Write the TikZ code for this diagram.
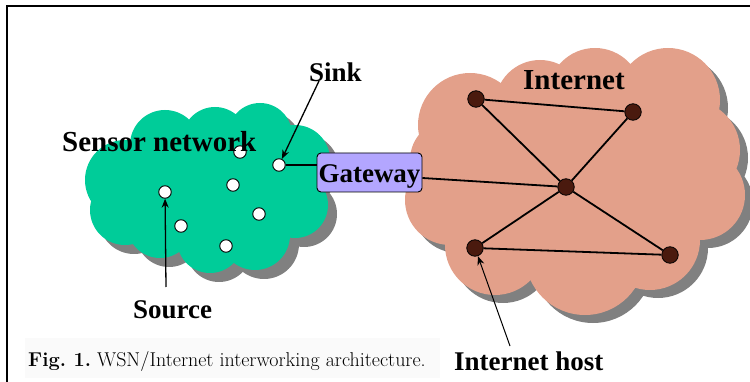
\documentclass[tikz,border=0pt]{standalone}
\usepackage{fontspec}
\newfontfamily\lib{Liberation Serif}
\usetikzlibrary{arrows.meta}
\definecolor{sgreen}{HTML}{00CC99}
\definecolor{ipink}{HTML}{E3A08A}
\definecolor{cshadow}{HTML}{808080}
\definecolor{gwfill}{HTML}{B3A6FF}
\definecolor{hostfill}{HTML}{4A1A0E}
\tikzset{
  sensor/.style={circle,draw=black,line width=0.9pt,fill=white,minimum size=12.5pt,inner sep=0pt},
  host/.style={circle,draw=black,line width=0.8pt,fill=hostfill,minimum size=16.5pt,inner sep=0pt},
  gwbox/.style={draw=black,line width=0.9pt,fill=gwfill,rounded corners=4pt,minimum width=105pt,minimum height=39pt,inner sep=0pt},
  lbl/.style={font=\lib\bfseries\fontsize{27}{30}\selectfont,inner sep=0pt},
  biglbl/.style={font=\lib\bfseries\fontsize{29}{32}\selectfont,inner sep=0pt},
  link/.style={line width=1.8pt},
  pointer/.style={line width=1.3pt,-{Stealth[length=9pt,width=7pt]}},
  thinpointer/.style={line width=1pt,-{Stealth[length=9pt,width=7pt]}},
}
\begin{document}
\begin{tikzpicture}[x=1pt,y=-1pt]
\useasboundingbox (0,0) rectangle (750,382);
% frame
\draw[line width=1.3pt] (7,390) -- (7,6) -- (760,6);
% caption background
\fill[black!2] (25,338) rectangle (440,378);
% green cloud shadow and cloud
\foreach \dx/\dy/\col in {9/9/cshadow,0/0/sgreen}{
  \begin{scope}[shift={(\dx,\dy)}]
  \fill[fill=\col] (125,180) circle (40) (165,145) circle (35) (215,140) circle (33)
    (260,135) circle (32) (295,160) circle (35) (295,205) circle (33)
    (255,235) circle (35) (210,240) circle (33) (160,225) circle (33)
    (125,210) circle (35) (210,185) circle (60);
  \end{scope}
}
% pink cloud shadow and cloud
\foreach \dx/\dy/\col in {8/8/cshadow,0/0/ipink}{
  \begin{scope}[shift={(\dx,\dy)}]
  \fill[fill=\col] (470,125) circle (52) (540,105) circle (45) (595,95) circle (47)
    (668,100) circle (52) (690,150) circle (50) (700,195) circle (45)
    (650,240) circle (50) (585,255) circle (60) (495,245) circle (50)
    (450,200) circle (45) (450,160) circle (40) (575,180) circle (90);
  \end{scope}
}
% sensor nodes
\node[sensor] (s1) at (240,152) {};
\node[sensor] (sink) at (279,165) {};
\node[sensor] (s3) at (233,185) {};
\node[sensor] (source) at (165,192) {};
\node[sensor] (s5) at (259,214) {};
\node[sensor] (s6) at (181,226) {};
\node[sensor] (s7) at (226,246) {};
% internet hosts
\node[host] (h1) at (476,99) {};
\node[host] (h2) at (633,112) {};
\node[host] (hub) at (566,187) {};
\node[host] (h4) at (475,248) {};
\node[host] (h5) at (670,255) {};
% gateway
\node[gwbox] (gw) at (369.5,172.5) {};
\node[lbl,anchor=base] (gwtxt) at (369.5,183) {Gateway};
% links
\draw[link] (sink) -- (gw.west |- sink);
\draw[link] (gw.east |- 0,178) -- (hub);
\draw[link] (h1) -- (h2);
\draw[link] (h1) -- (hub);
\draw[link] (h2) -- (hub);
\draw[link] (hub) -- (h4);
\draw[link] (hub) -- (h5);
\draw[link] (h4) -- (h5);
% labels
\node[biglbl,anchor=base west] (sn) at (62,152) {Sensor network};
\node[lbl,anchor=base west] (sinklbl) at (309,82) {Sink};
\node[lbl,anchor=base west] (srclbl) at (133,318) {Source};
\node[biglbl,anchor=base west] (inet) at (523,90) {Internet};
\node[lbl,anchor=base west] (ihost) at (454,370) {Internet host};
% pointers
\coordinate (sinkstart) at (319,81);
\coordinate (srcstart) at (166,287);
\coordinate (hoststart) at (510,346);
\draw[pointer] (sinkstart) -- (sink);
\draw[pointer] (srcstart) -- (source);
\draw[thinpointer] (hoststart) -- (h4);
% caption
\node[anchor=base west,inner sep=0pt,font=\fontsize{20}{22}\selectfont] (cap) at (28,366) {\frenchspacing\textbf{Fig. 1.} WSN/Internet interworking architecture.};
\end{tikzpicture}
\end{document}
